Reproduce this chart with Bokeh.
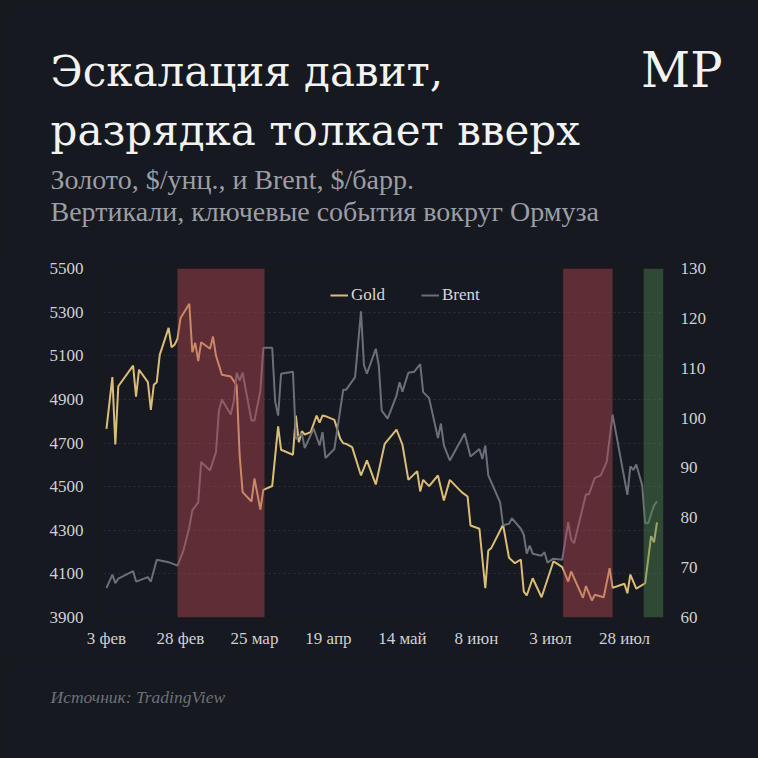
from bokeh.plotting import figure
from bokeh.layouts import column
from bokeh.models import (Range1d, LinearAxis, FixedTicker, BoxAnnotation,
                          Legend, LegendItem)
from bokeh.core.properties import value
from bokeh.embed import file_html
from bokeh.resources import INLINE

# ---------------- data ----------------
x_ticks = [0, 25, 50, 75, 100, 125, 150, 175]          # days since 3 Feb
x_tick_labels = ["3 фев", "28 фев", "25 мар", "19 апр", "14 май", "8 июн", "3 июл", "28 июл"]
gold_ticks = [3900, 4100, 4300, 4500, 4700, 4900, 5100, 5300, 5500]
brent_ticks = [60, 70, 80, 90, 100, 110, 120, 130]

gold_day = [0, 2, 3, 4, 9, 10, 11, 14, 15, 16,
            17, 18, 21, 22, 23, 24, 25, 28, 29, 30,
            31, 32, 35, 36, 37, 39, 42, 44, 45, 46,
            49, 50, 52, 53, 56, 58, 59, 63, 64, 65,
            66, 67, 69, 71, 72, 73, 74, 77, 79, 80,
            81, 83, 86, 88, 91, 94, 98, 100, 102, 105,
            106, 107, 109, 112, 114, 116, 120, 122, 123, 126,
            128, 129, 130, 134, 136, 138, 140, 141, 142, 144,
            147, 151, 152, 154, 156, 157, 161, 162, 164, 165,
            168, 170, 171, 174, 175, 176, 177, 179, 182, 184,
            185, 186]
gold_val = [4765, 5002, 4693, 4960, 5055, 4913, 5036, 4979, 4852, 4967,
            4979, 5104, 5228, 5139, 5150, 5178, 5272, 5338, 5116, 5159,
            5075, 5162, 5132, 5188, 5101, 5013, 5005, 4964, 4643, 4475,
            4432, 4537, 4395, 4485, 4503, 4776, 4669, 4646, 4826, 4704,
            4754, 4739, 4750, 4826, 4793, 4826, 4823, 4806, 4719, 4699,
            4696, 4681, 4551, 4620, 4510, 4696, 4761, 4692, 4531, 4571,
            4478, 4531, 4502, 4551, 4436, 4531, 4475, 4455, 4322, 4307,
            4034, 4207, 4218, 4325, 4174, 4149, 4166, 4019, 4001, 4080,
            3993, 4157, 4149, 4131, 4065, 4111, 3990, 4044, 3978, 4004,
            3993, 4126, 4036, 4050, 4055, 4011, 4097, 4032, 4057, 4273,
            4245, 4336]

brent_day = [0, 2, 3, 4, 9, 10, 14, 15, 17, 21,
             24, 26, 28, 29, 31, 32, 35, 37, 38, 39,
             42, 43, 44, 45, 46, 49, 50, 52, 53, 56,
             57, 58, 59, 63, 64, 66, 67, 70, 72, 73,
             74, 77, 80, 81, 84, 86, 87, 88, 91, 92,
             93, 95, 98, 99, 100, 102, 104, 106, 107, 109,
             112, 113, 114, 116, 121, 123, 126, 127, 128, 129,
             133, 134, 136, 137, 140, 141, 142, 143, 144, 147,
             148, 149, 151, 154, 156, 157, 158, 162, 163, 165,
             167, 169, 171, 176, 177, 178, 179, 181, 182, 183,
             185, 186]
brent_val = [65.9, 68.6, 66.9, 67.8, 69.3, 67.2, 68.1, 67.2, 71.6, 71.1,
             70.4, 73.4, 78.1, 81.5, 83.1, 91.2, 89.5, 93.2, 101.5, 103.7,
             100.7, 103.3, 109.1, 107.5, 109.1, 99.5, 99.5, 105.5, 114.1, 114.1,
             103.3, 100.5, 108.9, 109.3, 95.8, 96.9, 94.0, 97.9, 94.5, 97.2,
             92.0, 93.8, 105.7, 105.7, 108.2, 121.4, 110.6, 108.9, 113.9, 110.6,
             101.5, 99.9, 104.5, 107.2, 105.3, 109.1, 109.3, 110.8, 105.2, 104.0,
             96.0, 98.9, 94.5, 91.5, 96.9, 92.3, 93.8, 91.8, 94.5, 88.5,
             83.1, 78.5, 78.8, 79.9, 77.8, 76.6, 72.8, 74.4, 72.8, 72.4,
             73.1, 71.0, 71.8, 71.6, 79.1, 75.6, 74.9, 84.7, 84.7, 88.0,
             88.5, 91.2, 100.7, 84.6, 90.3, 89.6, 90.7, 86.5, 78.9, 78.9,
             82.5, 83.3]

escalation_start = [24.0, 154.3]
escalation_end = [53.4, 171.0]
deescalation_start = [181.5]
deescalation_end = [188.2]

title_lines = ["Эскалация давит,", "разрядка толкает вверх"]
subtitle_lines = ["Золото, $/унц., и Brent, $/барр.",
                  "Вертикали, ключевые события вокруг Ормуза"]
logo_text = "МР"
source_text = "Источник: TradingView"

# ---------------- style ----------------
BG = "#16191f"
GOLD = "#dcbd78"
BRENT = "#6a6f79"
RED = "#b64852"
GREEN = "#4e864e"
TICK = "#cfd1d6"
SERIF = "Liberation Serif"
HEAD_FONT = "DejaVu Serif"
W = 758
BG_STYLE = {"background-color": BG}


def blank(height, y_top, y_bottom):
    f = figure(width=W, height=height, output_backend="svg", toolbar_location=None,
               x_range=Range1d(0, W), y_range=Range1d(y_bottom, y_top),
               min_border=0, x_axis_type=None, y_axis_type=None, frame_align=False,
               styles=BG_STYLE)
    f.background_fill_color = BG
    f.border_fill_color = BG
    f.outline_line_color = None
    f.grid.visible = False
    return f


def put(f, x, y, text, size, color, font=SERIF, style="normal", align="left"):
    f.text(x=[x], y=[y], text=[text], text_font=value(font),
           text_font_size=value(size), text_color=color,
           text_font_style=style, text_baseline="alphabetic", text_align=align)


# header (page y 0..258, y grows downward)
head = blank(258, 0, 258)
put(head, 50, 71, title_lines[0], "42px", "#f2f2f2", font=HEAD_FONT)
put(head, 50, 130, title_lines[1], "42px", "#f2f2f2", font=HEAD_FONT)
put(head, 722, 69, logo_text, "48px", "#f2f2f2", font=HEAD_FONT, align="right")
put(head, 50, 179, subtitle_lines[0], "28px", "#9b9ea6")
put(head, 50, 211, subtitle_lines[1], "28px", "#9b9ea6")

# main chart (page y 258..657, frame 268..617)
p = figure(width=W, height=399, output_backend="svg", toolbar_location=None,
           x_range=Range1d(-1.0, 188.2), y_range=Range1d(3900, 5500),
           min_border_left=103, min_border_right=95, min_border_top=10,
           min_border_bottom=40, frame_align=False, styles=BG_STYLE)
p.background_fill_color = BG
p.border_fill_color = BG
p.outline_line_color = None
p.extra_y_ranges = {"brent": Range1d(60, 130)}

p.xgrid.visible = False
p.ygrid.grid_line_color = "#2c3038"
p.ygrid.grid_line_dash = "2 3"
p.ygrid.grid_line_width = 1

for ax in (p.xaxis[0], p.yaxis[0]):
    ax.axis_line_color = None
    ax.major_tick_line_color = None
    ax.minor_tick_line_color = None
    ax.major_label_text_color = TICK
    ax.major_label_text_font = SERIF
    ax.major_label_text_font_size = "17px"

p.xaxis.ticker = FixedTicker(ticks=x_ticks)
p.xaxis.major_label_overrides = {t: l for t, l in zip(x_ticks, x_tick_labels)}
p.xaxis.major_label_standoff = 5
p.yaxis.ticker = FixedTicker(ticks=gold_ticks)
p.yaxis.major_label_standoff = 14

ax_r = LinearAxis(y_range_name="brent", ticker=FixedTicker(ticks=brent_ticks))
ax_r.axis_line_color = None
ax_r.major_tick_line_color = None
ax_r.minor_tick_line_color = None
ax_r.major_label_text_color = TICK
ax_r.major_label_text_font = SERIF
ax_r.major_label_text_font_size = "17px"
ax_r.major_label_standoff = 11
p.add_layout(ax_r, "right")

g = p.line(gold_day, gold_val, line_color=GOLD, line_width=2)
b = p.line(brent_day, brent_val, line_color=BRENT, line_width=2, y_range_name="brent")

for s, e in zip(escalation_start, escalation_end):
    p.add_layout(BoxAnnotation(left=s, right=e, fill_color=RED, fill_alpha=0.45,
                               line_color=None))
for s, e in zip(deescalation_start, deescalation_end):
    p.add_layout(BoxAnnotation(left=s, right=e, fill_color=GREEN, fill_alpha=0.45,
                               line_color=None))

legend = Legend(items=[LegendItem(label="Gold", renderers=[g]),
                       LegendItem(label="Brent", renderers=[b])],
                orientation="horizontal", location=(227, 312),
                background_fill_alpha=0, border_line_color=None,
                label_text_color="#d6d7da", label_text_font=SERIF,
                label_text_font_size="17px", glyph_width=18, glyph_height=20,
                label_height=20, label_standoff=3, spacing=36, padding=0, margin=0)
p.add_layout(legend)

# footer (page y 657..758)
foot = blank(101, 657, 758)
put(foot, 50, 696, source_text, "17.5px", "#6c7079", style="italic")

layout = column(head, p, foot, spacing=0, styles=BG_STYLE)
html = file_html(layout, INLINE)
css = "<style>html, body { background-color: %s !important; }</style>" % BG
html = html.replace("</head>", css + "</head>", 1)
open("out.html", "w").write(html)
